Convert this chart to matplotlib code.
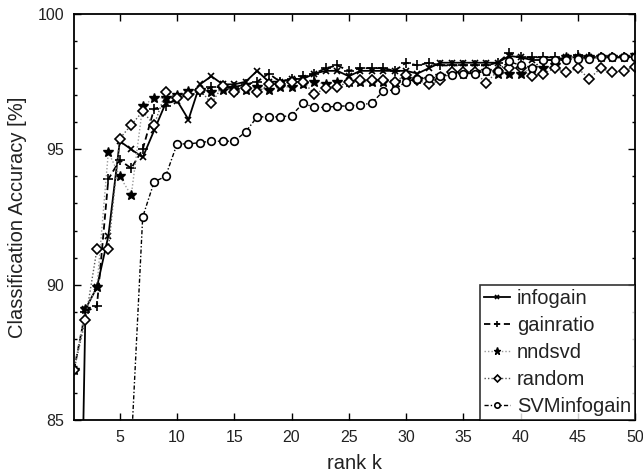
import matplotlib
matplotlib.use("Agg")
import matplotlib.pyplot as plt
from matplotlib.ticker import MultipleLocator
import numpy as np

rank_k = list(range(1, 51))

infogain = [66.0, 89.1, 89.9, 91.8, 95.3, 95.0, 94.7, 95.7, 96.7, 96.8,
            96.1, 97.4, 97.7, 97.4, 97.4, 97.5, 97.9, 97.5, 97.5, 97.6,
            97.6, 97.8, 97.9, 97.9, 97.7, 97.9, 97.9, 97.9, 97.9, 97.9,
            97.8, 98.0, 98.2, 98.2, 98.2, 98.2, 98.2, 98.2, 98.45, 98.4,
            98.3, 98.3, 98.3, 98.4, 98.4, 98.4, 98.4, 98.4, 98.4, 98.45]

gainratio = [86.85, 89.0, 89.2, 93.9, 94.6, 94.3, 95.0, 96.5, 96.6, 96.9,
             97.0, 97.1, 97.3, 97.3, 97.3, 97.4, 97.5, 97.8, 97.5, 97.6,
             97.7, 97.8, 98.0, 98.1, 97.9, 98.0, 98.0, 98.0, 97.9, 98.2,
             98.1, 98.2, 98.1, 98.1, 98.1, 98.1, 98.1, 98.2, 98.55, 98.4,
             98.4, 98.4, 98.4, 98.3, 98.5, 98.4, 98.4, 98.4, 98.4, 98.4]

nndsvd = [86.85, 89.1, 89.9, 94.9, 94.0, 93.3, 96.6, 96.9, 96.9, 97.0,
          97.15, 97.2, 97.1, 97.2, 97.2, 97.2, 97.3, 97.2, 97.3, 97.3,
          97.4, 97.5, 97.4, 97.5, 97.5, 97.5, 97.5, 97.5, 97.5, 97.6,
          97.6, 97.6, 97.7, 97.8, 97.8, 97.85, 97.9, 97.8, 97.8, 97.8,
          98.0, 98.0, 98.1, 98.4, 98.4, 98.4, 98.4, 98.4, 98.4, 98.5]

random_init = [86.85, 88.7, 91.3, 91.3, 95.4, 95.9, 96.4, 95.9, 97.1, 96.9,
               97.0, 97.2, 96.7, 97.35, 97.1, 97.25, 97.1, 97.4, 97.4, 97.5,
               97.5, 97.05, 97.25, 97.3, 97.5, 97.55, 97.55, 97.55, 97.5, 97.75,
               97.55, 97.4, 97.55, 97.85, 97.85, 97.85, 97.45, 97.9, 98.0, 98.0,
               97.7, 97.8, 98.0, 97.85, 98.0, 97.6, 98.0, 97.85, 97.9, 98.05]

svm_infogain = [60.0, 64.0, 68.0, 72.0, 78.0, 84.0, 92.5, 93.8, 94.0, 95.2,
                95.2, 95.25, 95.3, 95.3, 95.3, 95.65, 96.2, 96.2, 96.2, 96.25,
                96.7, 96.55, 96.55, 96.6, 96.6, 96.65, 96.7, 97.15, 97.2, 97.5,
                97.6, 97.65, 97.7, 97.75, 97.8, 97.8, 97.9, 97.9, 98.25, 98.1,
                98.0, 98.3, 98.3, 98.3, 98.35, 98.35, 98.4, 98.4, 98.4, 98.4]

x_ticks = [5, 10, 15, 20, 25, 30, 35, 40, 45, 50]
y_ticks = [85, 90, 95, 100]

plt.rcParams['font.family'] = ['Liberation Sans', 'DejaVu Sans']
txt = '#222222'

fig = plt.figure(figsize=(6.43, 4.76), dpi=100)
ax = fig.add_axes([74/643, 56/476, 561/643, 406/476])

ax.plot(rank_k, infogain, color='black', lw=1.3, ls='-', marker='x',
        ms=4.5, mew=1.2, label='infogain')
ax.plot(rank_k, gainratio, color='black', lw=1.3, ls=(0, (3.5, 2)), marker='+',
        ms=6.5, mew=1.2, label='gainratio')
ax.plot(rank_k, nndsvd, color='#9a9a9a', lw=1.0, ls=(0, (1, 1.5)), marker='*',
        ms=7.5, mfc='black', mec='black', label='nndsvd')
ax.plot(rank_k, random_init, color='#555555', lw=1.0, ls=(0, (1, 1.5)), marker='D',
        ms=5, mfc='white', mec='black', mew=1.2, label='random')
ax.plot(rank_k, svm_infogain, color='black', lw=1.0, ls=(0, (3, 1.5, 1, 1.5)), marker='o',
        ms=5.5, mfc='white', mec='black', mew=1.2, label='SVMinfogain')

ax.set_xlim(1, 50)
ax.set_ylim(85, 100)
ax.set_xticks(x_ticks)
ax.set_yticks(y_ticks)
ax.yaxis.set_minor_locator(MultipleLocator(1))
ax.tick_params(which='both', direction='in', top=True, right=True,
               labelsize=11.5, colors='black', labelcolor=txt, width=1.0)
ax.tick_params(which='major', length=5, pad=7)
ax.tick_params(which='minor', length=2.5)
for s in ax.spines.values():
    s.set_linewidth(1.3)

ax.set_xlabel('rank k', fontsize=14.5, color=txt, labelpad=7)
ax.set_ylabel('Classification Accuracy [%]', fontsize=14.5, color=txt, labelpad=8)

leg = ax.legend(loc='lower right', fontsize=14.5, frameon=True, fancybox=False,
                edgecolor='black', borderpad=0.2, handlelength=1.3,
                handletextpad=0.35, labelspacing=0.4, borderaxespad=0.0,
                markerscale=0.7)
leg.get_frame().set_linewidth(1.2)
for t in leg.get_texts():
    t.set_color(txt)

fig.savefig('out.png', dpi=100)
